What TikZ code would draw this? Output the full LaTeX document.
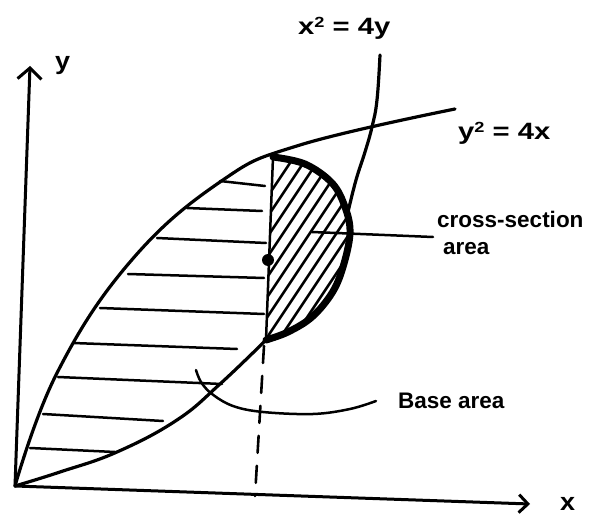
\documentclass[tikz,border=0pt]{standalone}
\usepackage{fontspec}
\setmainfont{Liberation Sans}
\usetikzlibrary{arrows.meta}
\begin{document}
\begin{tikzpicture}[x=1pt,y=-1pt,line cap=round,line join=round,
  axis/.style={line width=3pt},
  curve/.style={line width=3.2pt},
  thin/.style={line width=2.5pt},
  thickarc/.style={line width=7pt},
  lbl/.style={font=\fontsize{22.5}{24}\selectfont\bfseries,inner sep=0pt},
  dashline/.style={line width=2.6pt,dash pattern=on 17pt off 13pt}]
\useasboundingbox (0,0) rectangle (590,516);

% axes
\coordinate (O) at (15,486);
\coordinate (Ytip) at (30,66);
\coordinate (Xtip) at (530,504);
\draw[axis,-{Straight Barb[length=11pt,width=24pt]}] (O) -- (Ytip);
\draw[axis,-{Straight Barb[length=9pt,width=18pt]}] (O) -- (Xtip);
\node[lbl,anchor=base west] (ylab) at (55,70) {\scalebox{1.2}[1.1]{y}};
\node[lbl,anchor=base west] (xlab) at (560,510) {\scalebox{1.2}[1.1]{x}};

% base hatching
\foreach \xa/\ya/\xb/\yb in {220/181/265/186, 187/208/262/211, 157/238/266/243,
  128/274/264/278, 100/308/264/314, 73/343/237/349, 58/377/222/384,
  43/414/163/421, 30/448/115/452}
  \draw[thin] (\xa,\ya) -- (\xb,\yb);

% y^2 = 4x
\draw[curve] plot[smooth,tension=0.7] coordinates {(15,486) (57,373) (130,262)
  (220,182) (300,145) (455,109)};
% x^2 = 4y
\draw[curve] plot[smooth,tension=0.7] coordinates {(15,486) (60,472) (117,452)
  (177,420) (220,384) (266,340)};
\draw[curve] plot[smooth,tension=0.7] coordinates {(348,212) (356,180) (365,152)
  (372,127) (377,100) (380,55)};

% cross-section
\coordinate (Ct) at (273,157);
\coordinate (Cb) at (266,340);
\begin{scope}
  \clip (Ct) plot[smooth,tension=0.6] coordinates {(273,157) (305,164) (332,183) (345,207)
    (350,233) (343,267) (332,293) (312,317) (288,332) (266,340)} -- cycle;
  \foreach \y in {193,213,233,253,273,293,313,333,353,373,393,413}
    \draw[thin] (250,\y+30) -- (380,\y-165);
\end{scope}
\draw[thickarc] plot[smooth,tension=0.6] coordinates {(273,157) (305,164) (332,183) (345,207)
  (350,233) (343,267) (332,293) (312,317) (288,332) (266,340)};
\draw[thin] (Ct) -- (Cb);
\fill (268,260) circle (6pt);

% dashed
\coordinate (Dt) at (264,346);
\coordinate (Db) at (255,496);
\draw[dashline] (Dt) -- (Db);

% labels
\node[lbl,anchor=base west] (eqx) at (298,35)
  {\scalebox{1.3}[1.05]{x\raisebox{7pt}{\fontsize{14}{14}\selectfont 2} = 4y}};
\node[lbl,anchor=base west] (eqy) at (458,140)
  {\scalebox{1.3}[1.05]{y\raisebox{7pt}{\fontsize{14}{14}\selectfont 2} = 4x}};
\node[lbl,anchor=base west] (cs1) at (437,228) {cross-section};
\node[lbl,anchor=base west] (cs2) at (443,255) {area};
\node[lbl,anchor=base west] (ba) at (398,408) {Base area};

% leaders
\coordinate (csin) at (312,232);
\coordinate (csend) at (433,237);
\draw[thin] (csin) -- (csend);
\coordinate (bain) at (196,370);
\coordinate (baend) at (376,401);
\draw[thin] plot[smooth,tension=0.6] coordinates {(bain) (201,382) (212,394) (233,406)
  (263,412) (313,414) (350,409) (baend)};
\end{tikzpicture}
\end{document}
